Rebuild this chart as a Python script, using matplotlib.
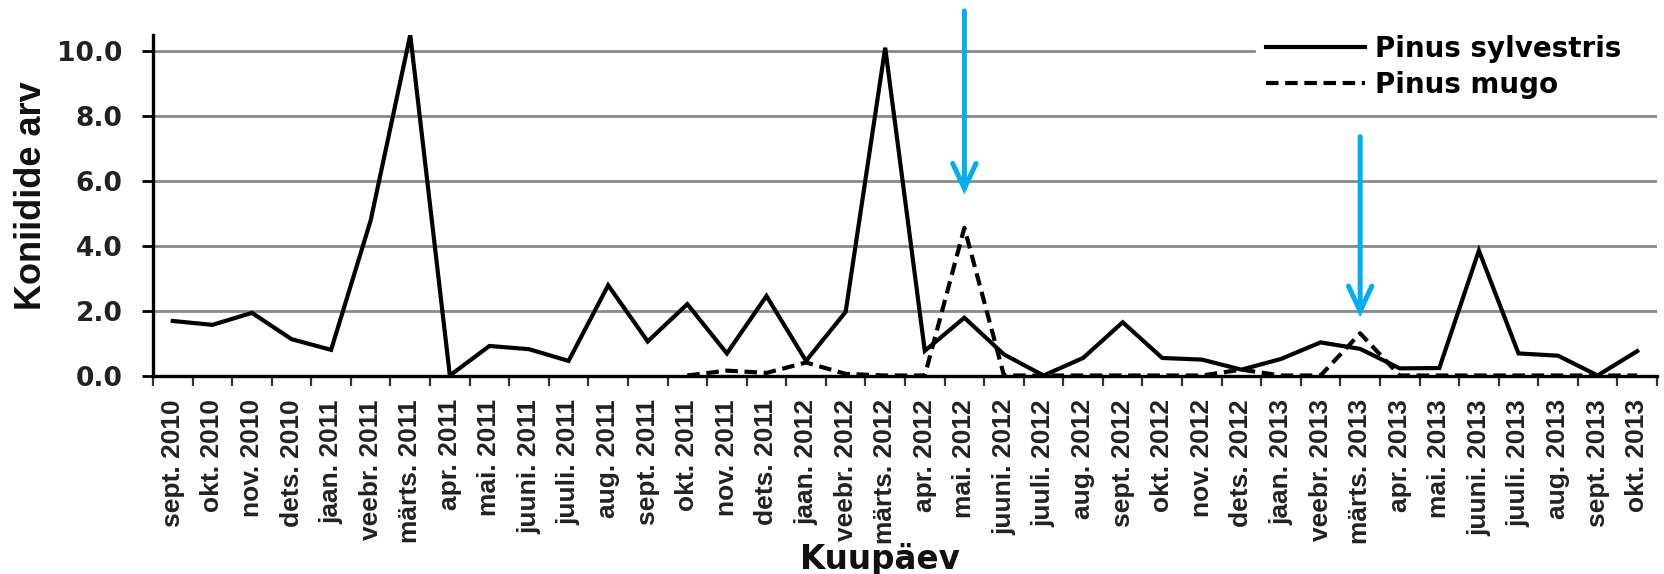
import matplotlib
matplotlib.use("Agg")
import matplotlib.pyplot as plt
import numpy as np

months = ["sept. 2010", "okt. 2010", "nov. 2010", "dets. 2010",
          "jaan. 2011", "veebr. 2011", "märts. 2011", "apr. 2011", "mai. 2011", "juuni. 2011",
          "juuli. 2011", "aug. 2011", "sept. 2011", "okt. 2011", "nov. 2011", "dets. 2011",
          "jaan. 2012", "veebr. 2012", "märts. 2012", "apr. 2012", "mai. 2012", "juuni. 2012",
          "juuli. 2012", "aug. 2012", "sept. 2012", "okt. 2012", "nov. 2012", "dets. 2012",
          "jaan. 2013", "veebr. 2013", "märts. 2013", "apr. 2013", "mai. 2013", "juuni. 2013",
          "juuli. 2013", "aug. 2013", "sept. 2013", "okt. 2013"]

sylvestris = [1.68, 1.56, 1.93, 1.12, 0.79, 4.78, 10.5, 0.0, 0.91, 0.81,
              0.45, 2.78, 1.05, 2.2, 0.68, 2.45, 0.45, 1.96, 10.1, 0.76,
              1.78, 0.65, 0.0, 0.54, 1.64, 0.54, 0.49, 0.18, 0.51, 1.02,
              0.82, 0.22, 0.23, 3.85, 0.68, 0.61, 0.0, 0.75]

mugo = [np.nan] * 13 + [0.0, 0.15, 0.08, 0.4, 0.05, 0.0, 0.0, 4.55, 0.0,
                        0.0, 0.0, 0.0, 0.0, 0.0, 0.18, 0.0, 0.0, 1.3, 0.0,
                        0.0, 0.0, 0.0, 0.0, 0.0, 0.0]

yticks = [0, 2, 4, 6, 8, 10]
arrow_months = ["mai. 2012", "märts. 2013"]
arrow_tips = [5.58, 1.8]
arrow_tops = [11.23, 7.36]

W, H = 1664, 574
fig = plt.figure(figsize=(W / 100, H / 100), dpi=100)
fig.patch.set_facecolor("white")

left, right, bottom_px, top_px = 153, 1657, 375.5, 34.7
ax = fig.add_axes([left / W, 1 - bottom_px / H, (right - left) / W, (bottom_px - top_px) / H])

x = np.arange(len(months))
ax.plot(x, sylvestris, color="black", lw=3.0, solid_joinstyle="miter",
        label="Pinus sylvestris", zorder=3)
ax.plot(x, mugo, color="black", lw=3.0, linestyle=(0, (3, 1.6)),
        label="Pinus mugo", zorder=3)

ax.set_xlim(-0.5, len(months) - 0.5)
ax.set_ylim(0, 10.5)

ax.set_yticks(yticks)
ax.set_yticklabels([f"{v:.1f}" for v in yticks], fontfamily="DejaVu Sans",
                   fontweight="bold", fontsize=19, color="#222222")
ax.yaxis.grid(True, color="#8a8a8a", lw=2.0, zorder=0)
ax.set_axisbelow(True)
ax.tick_params(axis="y", length=8, width=2, pad=14, color="black")

ax.set_xticks(np.arange(-0.5, len(months), 1.0))
ax.set_xticklabels([])
ax.set_xticks(x, minor=True)
ax.set_xticklabels(months, minor=True, rotation=90, fontfamily="Liberation Sans",
                   fontweight="bold", fontsize=19, color="#222222")
ax.tick_params(axis="x", which="major", length=7, width=1.6, color="#333333")
ax.tick_params(axis="x", which="minor", length=0, pad=17)

for s in ["top", "right"]:
    ax.spines[s].set_visible(False)
for s in ["left", "bottom"]:
    ax.spines[s].set_linewidth(2.4)
    ax.spines[s].set_color("black")

fig.text(32 / W, 1 - 196 / H, "Koniidide arv", rotation=90, ha="center", va="center",
         fontfamily="Liberation Sans", fontweight="bold", fontsize=26, color="#111111")
fig.text(880 / W, 1 - 559 / H, "Kuupäev", ha="center", va="center",
         fontfamily="DejaVu Sans", fontweight="bold", fontsize=23.5, color="#111111")

leg_top = 1 - 25 / H
leg_h = 90 / H
leg = ax.legend(loc="upper left",
                bbox_to_anchor=(1256 / W, leg_top - leg_h, (1662 - 1256) / W, leg_h),
                bbox_transform=fig.transFigure, mode="expand", frameon=True, fancybox=False,
                facecolor="white", edgecolor="white", framealpha=1,
                borderpad=0.35, handlelength=3.56, handletextpad=0.36,
                labelspacing=0.3, borderaxespad=0,
                prop={"family": "DejaVu Sans", "weight": "bold", "size": 20})
leg.set_zorder(5)

for m, tip, top in zip(arrow_months, arrow_tips, arrow_tops):
    xi = months.index(m)
    ax.annotate("", xy=(xi, tip), xytext=(xi, top), annotation_clip=False,
                arrowprops=dict(arrowstyle="->,head_length=0.9,head_width=0.42",
                                color="#00AEEF", lw=3.6, shrinkA=0, shrinkB=0,
                                mutation_scale=20, joinstyle="miter"),
                zorder=6)

fig.savefig("out.png", dpi=100, facecolor="white")
